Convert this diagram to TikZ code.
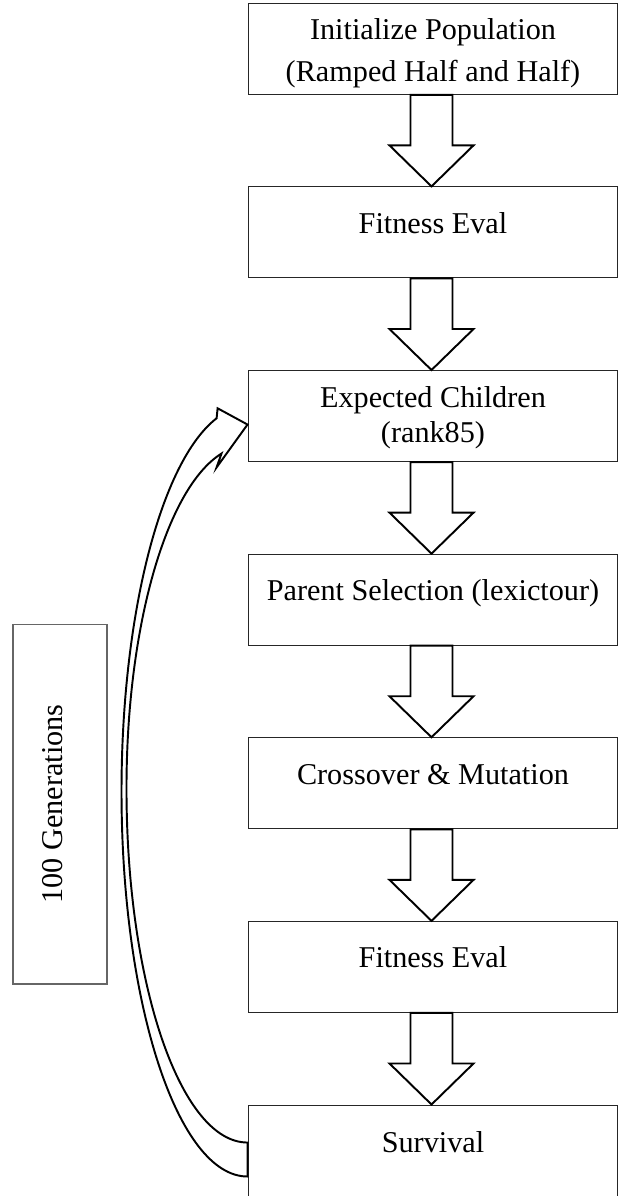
\documentclass[tikz,border=0pt]{standalone}
\usepackage{fontspec}
\setmainfont{Liberation Serif}
\usetikzlibrary{calc, positioning}

\begin{document}
\begin{tikzpicture}[x=0.02cm, y=0.02cm,
    stepbox/.style={draw=black!85, line width=0.6pt, minimum width=7.4cm, minimum height=1.82cm,
      inner sep=0pt, align=center, text height=1.1pt, text depth=0pt,
      font=\fontsize{17.2}{23.8}\selectfont},
    genbox/.style={draw=black!60, line width=0.6pt, minimum width=7.2cm, minimum height=1.88cm,
      inner sep=0pt, rotate=90, text height=2.3pt, text depth=0pt,
      font=\fontsize{17.2}{23.8}\selectfont},
    blkarrow/.style={draw=black, line width=1.1pt, fill=white, line join=miter},
    node distance=1.832cm]
  % picture frame
  \useasboundingbox (0,0) rectangle (630,-1196);

  % Steps of the run
  \node[stepbox, text height=36.85pt] (init) at (433,-48.8) {Initialize Population\\(Ramped Half and Half)};
  \node[stepbox, below=of init] (fit) {Fitness Eval};
  \node[stepbox, below=of fit, text height=30pt, font=\fontsize{17.2}{19.85}\selectfont] (exp) {Expected Children\\(rank85)};
  \node[stepbox, below=of exp] (par) {Parent Selection (lexictour)};
  \node[stepbox, below=of par] (cross) {Crossover \& Mutation};
  \node[stepbox, below=of cross] (refit) {Fitness Eval};
  \node[stepbox, below=of refit, minimum height=1.88cm] (surv) {Survival};

  % Loop label
  \node[genbox] (gen) at (60,-804) {100 Generations};

  % Block arrows between steps
  \foreach \a/\b in {init/fit, fit/exp, exp/par, par/cross, cross/refit, refit/surv}
    \draw[blkarrow] ($(\a.south)+(-22.5,0)$) -- ($(\b.north)+(-22.5,41)$) -- ($(\b.north)+(-43.5,41)$)
      -- ($(\b.north)+(-1.5,0)$) -- ($(\b.north)+(40.5,41)$) -- ($(\b.north)+(19.5,41)$) -- ($(\a.south)+(19.5,0)$) -- cycle;

  % Curved arrow back to Expected Children
  \draw[blkarrow] ($(surv.west)+(0,-24.5)$)
    arc[start angle=270, end angle=104.2, x radius=126, y radius=385]
    -- ++(1,10) -- ($(exp.west)+(0,-8.5)$) -- ++(-31,-43) -- ++(5,14)
    arc[start angle=102.4, end angle=180, x radius=121, y radius=343]
    arc[start angle=180, end angle=270, x radius=121, y radius=354] -- cycle;
\end{tikzpicture}
\end{document}
